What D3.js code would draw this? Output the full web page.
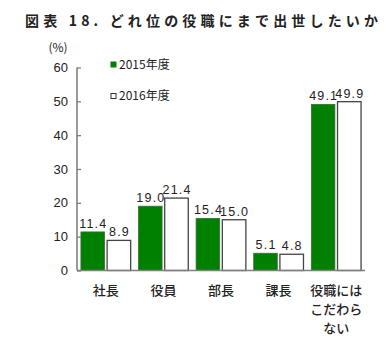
<!DOCTYPE html>
<html>
<head>
<meta charset="utf-8">
<script src="https://cdn.jsdelivr.net/npm/d3@7"></script>
<style>
  html, body { margin: 0; padding: 0; background: #fff; }
  svg { display: block; }
</style>
</head>
<body>
<svg id="chart" width="390" height="339"></svg>
<script>
// Survey: how far up the ladder respondents want to be promoted (%)
const categories = [["社長"], ["役員"], ["部長"], ["課長"], ["役職には", "こだわら", "ない"]];
const seriesNames = ["2015年度", "2016年度"];
const values2015 = [11.4, 19.0, 15.4, 5.1, 49.1];
const values2016 = [8.9, 21.4, 15.0, 4.8, 49.9];
const yTicks = [0, 10, 20, 30, 40, 50, 60];

const svg = d3.select("#chart");
const jp = "'Noto Sans CJK JP', 'Noto Sans', sans-serif";
const latin = "'Liberation Sans', Arial, sans-serif";

const plot = { left: 77, right: 365, top: 67.5, bottom: 270.5 };

const catKeys = categories.map(c => c.join(""));
const x = d3.scaleBand().domain(catKeys).range([plot.left, plot.right]).padding(0);
const xs = d3.scaleBand().domain(seriesNames).range([0, x.bandwidth()])
  .paddingInner(0.1).paddingOuter(0.15);
const y = d3.scaleLinear().domain([0, 60]).range([plot.bottom, plot.top]);

const colors = { "2015年度": "#008000", "2016年度": "#ffffff" };

// Title
svg.append("text")
  .attr("x", 25).attr("y", 26)
  .attr("font-family", jp).attr("font-size", 14).attr("font-weight", "bold")
  .attr("fill", "#222")
  .attr("textLength", 353).attr("lengthAdjust", "spacing")
  .text("図表 18. どれ位の役職にまで出世したいか");

// Unit label
svg.append("text")
  .attr("x", 58).attr("y", 52)
  .attr("text-anchor", "middle")
  .attr("font-family", jp).attr("font-size", 12).attr("fill", "#222")
  .text("(%)");

// Bars
const rows = catKeys.map((k, i) => ({ key: k, vals: [
  { s: seriesNames[0], v: values2015[i] },
  { s: seriesNames[1], v: values2016[i] }
]}));

const groups = svg.append("g").selectAll("g").data(rows).join("g")
  .attr("transform", d => `translate(${x(d.key)},0)`);

groups.selectAll("rect").data(d => d.vals).join("rect")
  .attr("x", d => xs(d.s))
  .attr("y", d => y(d.v))
  .attr("width", xs.bandwidth())
  .attr("height", d => y(0) - y(d.v))
  .attr("fill", d => colors[d.s])
  .attr("stroke", d => d.s === seriesNames[0] ? "#3a6b3a" : "#444")
  .attr("stroke-width", d => d.s === seriesNames[0] ? 0.8 : 1.3);

groups.selectAll("text.val").data(d => d.vals).join("text")
  .attr("class", "val")
  .attr("x", d => xs(d.s) + xs.bandwidth() / 2 + 0.6)
  .attr("y", d => y(d.v) - 4)
  .attr("text-anchor", "middle")
  .attr("font-family", latin).attr("font-size", 12.5)
  .attr("letter-spacing", 1.2)
  .attr("fill", "#222")
  .text(d => d.v.toFixed(1));

// Y axis (ticks pointing into the plot)
const yAxis = d3.axisRight(y).tickValues(yTicks).tickSize(4).tickFormat("");
const yg = svg.append("g").attr("transform", `translate(${plot.left},0)`).call(yAxis);
yg.select(".domain").remove();
yg.selectAll(".tick line").attr("stroke", "#808080").attr("stroke-width", 1.3);
svg.append("line")
  .attr("x1", plot.left).attr("x2", plot.left)
  .attr("y1", y(60)).attr("y2", y(0))
  .attr("stroke", "#808080").attr("stroke-width", 1.6);

svg.append("g").selectAll("text").data(yTicks).join("text")
  .attr("x", 68).attr("y", d => y(d) + 4.5)
  .attr("text-anchor", "end")
  .attr("font-family", latin).attr("font-size", 13).attr("fill", "#222")
  .text(d => d);

// X axis baseline
svg.append("line")
  .attr("x1", plot.left).attr("x2", plot.right)
  .attr("y1", y(0)).attr("y2", y(0))
  .attr("stroke", "#808080").attr("stroke-width", 1.6);

// Category labels
const catText = svg.append("g").selectAll("text").data(categories).join("text")
  .attr("text-anchor", "middle")
  .attr("font-family", jp).attr("font-size", 13).attr("font-weight", 500)
  .attr("fill", "#222");
catText.selectAll("tspan").data((d, i) => d.map(line => ({ line, key: catKeys[i] })))
  .join("tspan")
  .attr("x", d => x(d.key) + x.bandwidth() / 2)
  .attr("y", (d, j) => 295 + j * 19)
  .text(d => d.line);

// Legend
const legend = svg.append("g").selectAll("g").data(seriesNames).join("g")
  .attr("transform", (d, i) => `translate(111,${62 + i * 31.5})`);
legend.append("rect")
  .attr("width", 5).attr("height", 5)
  .attr("fill", d => colors[d])
  .attr("stroke", d => d === seriesNames[0] ? "#008000" : "#333")
  .attr("stroke-width", 1);
legend.append("text")
  .attr("x", 8).attr("y", 6.5)
  .attr("font-family", jp).attr("font-size", 12).attr("fill", "#222")
  .text(d => d);
</script>
</body>
</html>
